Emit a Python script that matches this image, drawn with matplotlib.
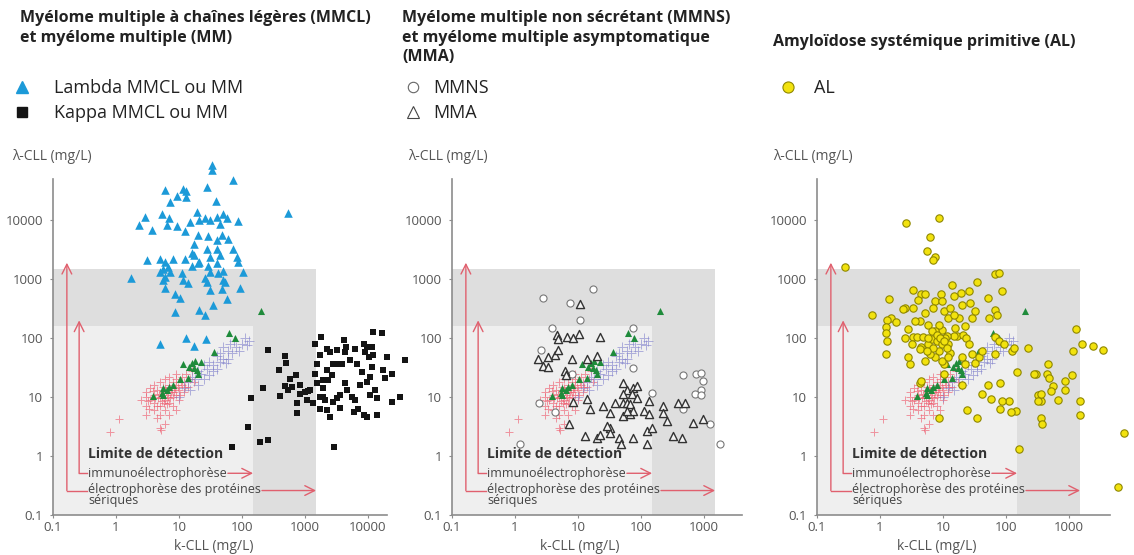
import numpy as np
import matplotlib
matplotlib.use("Agg")
import matplotlib.pyplot as plt
from matplotlib.lines import Line2D
from matplotlib.patches import Rectangle

plt.rcParams["font.family"] = ["Open Sans", "DejaVu Sans"]

W, H = 1134, 555

# (k-CLL, lambda-CLL) in mg/L
lambda_mm = [(33, 85000), (34, 71000), (71, 49000), (6, 33000), (11.5, 34000), (13, 31000),
             (28, 37000), (9.4, 26000), (13, 25000), (39, 21000), (7.2, 20000), (2.9, 11500),
             (5.3, 12500), (7, 11000), (2.3, 8300), (3.7, 6800), (6.4, 8300), (9.2, 8000),
             (19, 14000), (15, 9400), (21, 10000), (26, 10700), (31, 10000), (40, 11500),
             (50, 12500), (57, 10700), (45, 8700), (87, 9600), (12.5, 6500), (20, 5600),
             (29, 5400), (48, 5700), (60, 4800), (17, 3900), (40, 4600), (27.5, 3200),
             (40, 3300), (73, 3300), (16, 2750), (545, 13500), (3.1, 2100), (5, 2200),
             (6, 1950), (8.1, 2200), (12.5, 2200), (17, 2550), (21, 1950), (31, 2400),
             (45, 2550), (82, 2400), (87, 1950), (5.6, 1500), (6.8, 1600), (5, 1300),
             (7.2, 1300), (6, 1100), (11, 1250), (16, 1700), (20, 1850), (29, 1700),
             (40, 1850), (50, 1400), (31, 1300), (42, 1250), (105, 1300), (1.7, 1030),
             (5.6, 960), (11.7, 960), (26, 1030), (50, 960), (14, 850), (27.5, 900),
             (54, 900), (6, 710), (31, 650), (48, 690), (93, 710), (8.7, 570), (10.4, 480),
             (57, 470), (35, 360), (8.7, 280), (21, 300), (26, 245), (5, 79), (13, 102),
             (17, 73), (27, 95)]

kappa_mm = [(69, 1.4), (194, 1.7), (262, 1.9), (126, 3.1), (2900, 1.4), (138, 9.5), (213, 14.5),
            (262, 63), (480, 50), (500, 38), (380, 29), (400, 10.4), (575, 20), (720, 23.5),
            (615, 15), (830, 16), (740, 8), (760, 5.4), (480, 15.5), (545, 13), (830, 11.2),
            (1100, 12.8), (1440, 25), (1440, 78), (1780, 105), (1740, 51), (1540, 37),
            (1540, 17), (1350, 8), (1740, 10.2), (1740, 6.4), (1950, 14), (2090, 8.9),
            (2200, 65), (2500, 59), (2800, 37), (3200, 63), (4200, 93), (4500, 71), (4300, 59),
            (3800, 37), (2200, 29), (2350, 19.5), (2650, 23.5), (2800, 8.3), (2200, 6),
            (3200, 9.5), (3600, 10.7), (3600, 6.6), (4300, 17), (4600, 13), (5500, 10.2),
            (6200, 65), (6600, 37), (6200, 8.9), (5900, 5.6), (7000, 6.4), (7400, 16),
            (7900, 27), (8500, 79), (9500, 71), (9000, 59), (10200, 48), (11400, 71),
            (12000, 51), (11400, 33), (10700, 22), (9500, 18), (8500, 4.9), (9500, 4.6),
            (12900, 13), (13800, 4.9), (13800, 9.5), (12000, 128), (16500, 120), (17000, 29),
            (18600, 21), (20000, 48), (24000, 25), (24000, 8.3), (32000, 10.2), (39000, 42),
            (10700, 10.7), (2500, 4.6), (1950, 10.2), (1950, 19.5), (1200, 13), (1070, 8.9),
            (1000, 12.3), (3200, 37), (5200, 42)]

mmns = [(2.75, 480), (7.5, 400), (17.5, 670), (10.8, 200), (3.8, 150), (76, 150), (2.4, 8),
        (4.3, 5.6), (76, 31), (148, 11.8), (470, 23.5), (760, 25), (910, 26), (980, 18.6),
        (910, 13), (720, 11.2), (910, 10.8), (470, 6.2), (1250, 3.5), (1780, 1.6),
        (2.6, 62), (1.2, 1.6), (8, 25)]

mma = [(10.8, 380), (4.6, 115), (4.9, 95), (6.6, 105), (8.4, 102), (10.2, 118), (22, 105),
       (3.4, 48), (4.3, 51), (4.9, 64), (2.3, 45), (2.8, 34), (3.4, 32), (7.9, 44), (13.8, 44),
       (20, 49), (6.2, 27.5), (6.4, 23.5), (52, 17), (59, 13), (76, 14.5), (85, 15.5),
       (52, 11.2), (71, 11.2), (85, 9.8), (132, 8.5), (225, 7), (390, 8), (500, 8), (14, 9.1),
       (15.5, 6.4), (25, 7), (39, 8), (52, 8), (59, 8), (67, 7.5), (32, 5.4), (52, 4.8),
       (67, 5.1), (76, 5.8), (110, 5.9), (132, 5.2), (225, 5.4), (255, 3.9), (124, 2.7),
       (148, 3), (680, 3.7), (980, 4.2), (7.1, 3.5), (12.9, 2.2), (20, 2.05), (22, 2.3),
       (32, 3), (32, 2.5), (44, 2.05), (49, 1.6), (76, 2), (124, 1.6), (325, 2.2), (450, 2),
       (8.4, 8.3), (29, 3.2), (59, 5.9)]

al = [(2.6, 9100), (8.5, 10700), (6.3, 5200), (5.5, 3000), (7.4, 2400), (7, 2100), (0.28, 1600),
      (68, 1200), (77, 1260), (87, 620), (7400, 2.5), (5900, 0.3), (160, 1.3), (220, 67),
      (460, 36), (1580, 80), (2400, 74), (3500, 62), (1300, 145), (1150, 60), (1100, 24),
      (850, 18.5), (850, 13), (680, 8.9), (1480, 8.7), (1480, 5), (360, 8.7), (360, 4.5),
      (370, 3.5), (320, 11), (360, 11.5), (300, 24.5), (280, 25), (440, 24.5), (490, 21),
      (550, 15.5), (520, 12.5), (320, 8.7), (112, 8.7), (143, 5.9), (118, 5.5), (87, 8.5),
      (79, 6.3), (35, 4.4), (24, 6.1), (57, 9.1), (41, 11.5), (79, 17), (52, 16), (20, 16),
      (8.5, 4.4), (4.3, 17.6), (152, 27), (126, 60), (68, 53), (52, 480), (53, 220),
      (35, 890), (26, 630), (19, 580), (14, 800), (15, 510), (20, 370), (27, 400), (32, 290),
      (29, 220), (22, 160), (18, 220), (12.2, 220), (10.2, 290), (7.4, 420), (4.5, 550),
      (5.1, 550), (3.3, 660), (2.5, 320), (2.3, 310), (3.3, 320), (4, 450), (5.1, 270),
      (7, 320), (9.3, 550), (9.5, 420), (13, 320), (15, 250), (15.5, 150), (16.6, 108),
      (21, 115), (23, 102), (26, 78), (29, 53), (22, 36), (20, 47), (15, 108), (12.2, 78),
      (11.5, 108), (9.5, 140), (8.5, 170), (7.4, 132), (5.8, 170), (4.3, 195), (3.6, 195),
      (2.8, 145), (1.5, 220), (1.3, 200), (0.76, 250), (1.25, 155), (1.8, 185), (1.25, 123),
      (1.3, 89), (1.25, 53), (1.4, 470), (2.5, 102), (3.3, 105), (3.8, 105), (4.8, 105),
      (4.5, 71), (4.3, 65), (5.8, 78), (6.6, 95), (7.9, 89), (9.5, 78), (10.8, 102),
      (13, 56), (10.2, 36), (9.5, 41), (8.5, 60), (7.4, 47), (5.8, 102), (6.6, 132),
      (7.9, 115), (8.9, 102), (10.2, 89), (11.5, 69), (6.2, 53), (7, 69), (5.5, 60),
      (5.1, 41), (3.2, 78), (3, 36), (2.8, 47), (4.5, 19), (12.2, 47), (10.2, 24.5),
      (32, 38), (37, 47), (42, 60), (68, 105), (77, 89), (93, 78), (135, 69), (68, 300),
      (73, 250)]

# reference population, shown in every panel
green_ref = [(63, 120), (78, 102), (36, 59), (11.7, 37), (16, 38), (18, 41), (22, 40),
             (14.5, 33), (17, 31), (19, 29), (20, 25), (14, 21), (10.4, 20), (8, 16), (7, 15),
             (5.6, 14), (6.4, 13), (5.3, 11.8), (3.9, 10.4), (5.6, 10.8), (200, 290)]

pink_ref = [(3, 10), (3.5, 9), (4, 11), (4, 8), (4.5, 13), (5, 10), (5, 7), (5.5, 12), (6, 9),
            (6, 14), (6.5, 11), (7, 8), (7, 16), (7.5, 12), (8, 10), (8, 18), (8.5, 14), (9, 11),
            (9, 20), (10, 13), (10, 9), (11, 16), (11, 22), (12, 12), (12, 18), (13, 25),
            (14, 15), (15, 20), (16, 28), (17, 18), (4, 6), (5, 5), (6, 6), (3, 7), (4.5, 4.5),
            (6, 3.5), (5, 3), (7, 5), (8, 7), (9, 6), (2.5, 9), (3, 12), (3.5, 14), (4, 16),
            (5, 18), (6, 20), (3, 5), (1.1, 4.2), (0.8, 2.6), (5.2, 2.8), (7, 22), (9, 25),
            (3.2, 8.5), (4.2, 9.5), (5.8, 8), (6.8, 10), (7.8, 13), (8.8, 16), (10.5, 11),
            (12.5, 15), (4.8, 11.5), (5.5, 15), (6.2, 12.5), (3.8, 12.5), (4.4, 7), (5.4, 8.5),
            (6.4, 7.5), (7.2, 9.5), (8.2, 12), (9.5, 15), (10.8, 18), (3.3, 6.2), (4.6, 9.8)]

purple_ref = [(10, 10), (12, 14), (15, 13), (18, 20), (20, 16), (22, 25), (25, 20), (28, 30),
              (30, 24), (35, 35), (40, 30), (45, 40), (50, 45), (55, 38), (60, 60), (70, 55),
              (80, 70), (90, 60), (100, 80), (120, 75), (130, 90), (25, 35), (35, 28), (45, 55),
              (60, 45), (16, 22), (20, 28), (30, 40), (14, 18), (40, 50), (65, 80), (50, 70),
              (75, 90), (110, 100)]

titles = ["Myélome multiple à chaînes légères (MMCL)\net myélome multiple (MM)",
          "Myélome multiple non sécrétant (MMNS)\net myélome multiple asymptomatique\n(MMA)",
          "Amyloïdose systémique primitive (AL)"]
ticks = [0.1, 1, 10, 100, 1000, 10000]

GRAY = "#8c8c8c"
TXT = "#555555"
RED = "#e0606e"
OUTER = "#dedede"
INNER = "#efefef"

fig = plt.figure(figsize=(W / 100, H / 100), dpi=100)


def make_panel(left, xmax):
    width = 63 * np.log10(xmax / 0.1)
    ax = fig.add_axes([left / W, 40 / H, width / W, 336 / H])
    ax.set_xscale("log")
    ax.set_yscale("log")
    ax.set_xlim(0.1, xmax)
    ax.set_ylim(0.1, 5e4)
    xt = [t for t in ticks if t <= xmax]
    lab = lambda t: "0.1" if t < 1 else str(int(t))
    ax.set_xticks(xt, [lab(t) for t in xt])
    ax.set_yticks(ticks, [lab(t) for t in ticks])
    ax.minorticks_off()
    for s in ("top", "right"):
        ax.spines[s].set_visible(False)
    for s in ("left", "bottom"):
        ax.spines[s].set_color(GRAY)
        ax.spines[s].set_linewidth(1.2)
    ax.tick_params(length=2, color=GRAY, labelcolor=TXT, labelsize=9.5)
    ax.tick_params(axis="y", pad=5)
    ax.tick_params(axis="x", pad=2)
    ax.set_facecolor("none")

    ax.add_patch(Rectangle((0.1, 0.1), 1500 - 0.1, 1500 - 0.1, color=OUTER, lw=0, zorder=0))
    ax.add_patch(Rectangle((0.1, 0.1), 150 - 0.1, 160 - 0.1, color=INNER, lw=0, zorder=0.1))

    pk, pl = zip(*pink_ref)
    ax.scatter(pk, pl, marker="+", s=32, lw=0.7, color="#ee5568", alpha=0.6, zorder=1)
    vk, vl = zip(*purple_ref)
    ax.scatter(vk, vl, marker="+", s=45, lw=0.7, color="#8080cc", alpha=0.6, zorder=1)

    ax.text(0.36, 1.1, "Limite de détection", fontweight="bold", fontsize=10,
            color="#333333", va="center", zorder=3)
    t_inner = ax.text(0.36, 0.51, "immunoélectrophorèse", fontsize=9, color="#444444",
                      va="center", zorder=3)
    t_outer = ax.text(0.36, 0.355, "électrophorèse des protéines\nsériques", fontsize=9,
                      color="#444444", va="top", linespacing=0.85, zorder=3)
    return ax, t_inner, t_outer


def arrow(ax, start, end):
    ax.annotate("", xy=end, xytext=start, zorder=2,
                arrowprops=dict(arrowstyle="->,head_length=0.7,head_width=0.35",
                                color=RED, lw=1, shrinkA=0, shrinkB=0))


def detection_lines(ax, t_inner, t_outer):
    r = fig.canvas.get_renderer()
    inv = ax.transData.inverted()
    x_in = inv.transform((t_inner.get_window_extent(r).x1, 0))[0] * 1.04
    x_out = inv.transform((t_outer.get_window_extent(r).x1, 0))[0] * 1.04
    # outer: serum protein electrophoresis
    arrow(ax, (0.166, 0.26), (0.166, 1900))
    ax.plot([0.166, 0.35], [0.26, 0.26], color=RED, lw=1, zorder=2)
    arrow(ax, (x_out, 0.26), (1500, 0.26))
    # inner: immunoelectrophoresis
    arrow(ax, (0.26, 0.51), (0.26, 200))
    ax.plot([0.26, 0.35], [0.51, 0.51], color=RED, lw=1, zorder=2)
    arrow(ax, (x_in, 0.51), (150, 0.51))


def draw_green(ax):
    gk, gl = zip(*green_ref)
    ax.scatter(gk, gl, marker="^", s=26, color="#1f8b3b", lw=0, zorder=4, clip_on=False)


panels = [make_panel(53, 2e4), make_panel(452, 4000), make_panel(817, 4500)]
ax1, ax2, ax3 = (p[0] for p in panels)
fig.canvas.draw()
for ax, ti, to in panels:
    detection_lines(ax, ti, to)
    draw_green(ax)

k, l = zip(*lambda_mm)
ax1.scatter(k, l, marker="^", s=38, color="#1c9ad8", lw=0, zorder=5, clip_on=False)
k, l = zip(*kappa_mm)
ax1.scatter(k, l, marker="s", s=22, color="#141414", lw=0, zorder=5, clip_on=False)

k, l = zip(*mmns)
ax2.scatter(k, l, marker="o", s=26, facecolor="white", edgecolor="#777777", lw=0.8, zorder=5,
            clip_on=False)
k, l = zip(*mma)
ax2.scatter(k, l, marker="^", s=34, facecolor="#f4f4f4", edgecolor="#333333", lw=1, zorder=5,
            clip_on=False)

k, l = zip(*al)
ax3.scatter(k, l, marker="o", s=28, facecolor="#f2e20e", edgecolor="#8f8700", lw=0.8, zorder=5,
            clip_on=False)

# headings, axis names
for x, t in zip([20, 402, 773], titles):
    y = 34 if t.startswith("Amylo") else 10
    fig.text(x / W, 1 - y / H, t, fontsize=11.5, fontweight="bold", color="#222222",
             va="top", linespacing=1.3)
for x in [12, 408, 773]:
    fig.text(x / W, 1 - 157 / H, "λ-CLL (mg/L)", fontsize=10, color=TXT, va="center")
for x in [214, 580, 937]:
    fig.text(x / W, 1 - 547 / H, "k-CLL (mg/L)", fontsize=10, color=TXT, va="center",
             ha="center")

# legends
leg_style = dict(loc="upper left", frameon=False, fontsize=13, handlelength=1,
                 labelspacing=0.4, borderpad=0, borderaxespad=0, labelcolor="#222222")
fig.legend([Line2D([], [], ls="", marker="^", ms=8.5, color="#1c9ad8"),
            Line2D([], [], ls="", marker="s", ms=6.5, color="#141414")],
           ["Lambda MMCL ou MM", "Kappa MMCL ou MM"], handletextpad=1.25,
           bbox_to_anchor=(13 / W, 1 - 79 / H), **leg_style)
fig.legend([Line2D([], [], ls="", marker="o", ms=7.5, mfc="white", mec="#666666", mew=0.8),
            Line2D([], [], ls="", marker="^", ms=8.5, mfc="white", mec="#444444", mew=0.8)],
           ["MMNS", "MMA"], handletextpad=0.6,
           bbox_to_anchor=(404 / W, 1 - 79 / H), **leg_style)
fig.legend([Line2D([], [], ls="", marker="o", ms=8, mfc="#f2e20e", mec="#8f8700", mew=0.8)],
           ["AL"], handletextpad=0.95,
           bbox_to_anchor=(779 / W, 1 - 79 / H), **leg_style)

fig.savefig("out.png", dpi=100)
